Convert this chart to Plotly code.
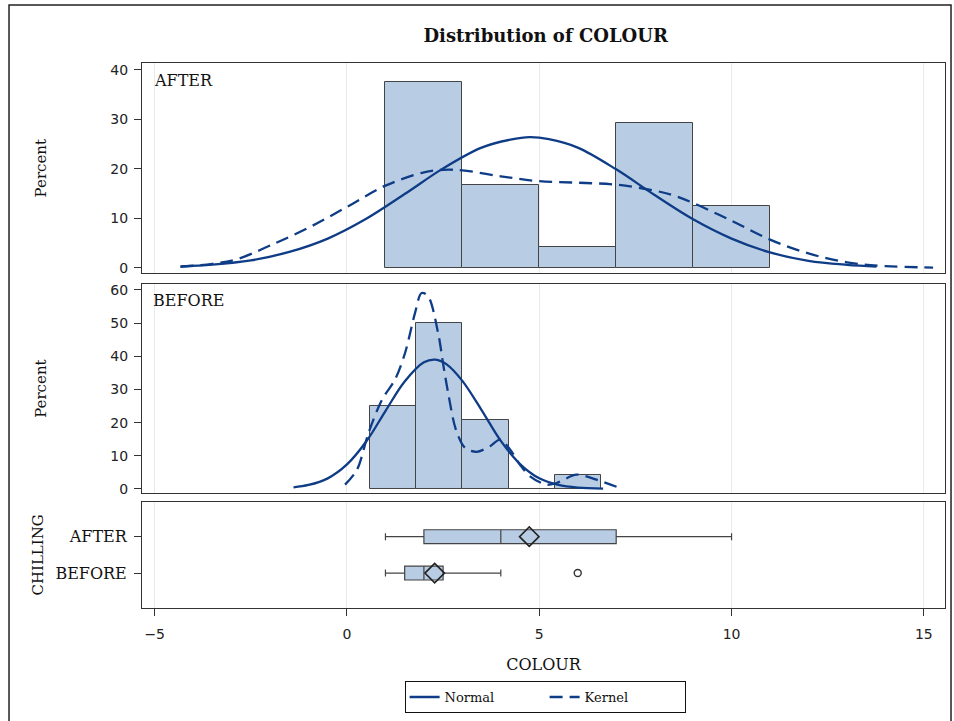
import plotly.graph_objects as go
from plotly.subplots import make_subplots

# ---------------- data ----------------
after_bin_centers = [2, 4, 6, 8, 10]
after_bin_width = 2
after_percent = [37.5, 16.67, 4.17, 29.17, 12.5]

before_bin_centers = [1.2, 2.4, 3.6, 4.8, 6.0]
before_bin_width = 1.2
before_percent = [25.0, 50.0, 20.83, 0.0, 4.17]

after_normal_x = [-4.33, -3.5, -2.5, -1.5, -0.5, 0.5, 1.5, 2.5, 3.5, 4.25, 4.75, 5.25, 6.0, 7.0, 8.0, 9.0, 10.0, 11.0, 12.0, 13.0, 13.77]
after_normal_y = [0.3, 0.65, 1.5, 3.2, 5.9, 9.9, 14.9, 20.1, 24.3, 25.9, 26.4, 26.0, 24.3, 19.9, 14.7, 9.8, 5.9, 3.1, 1.4, 0.6, 0.25]

after_kernel_x = [-4.33, -3.5, -2.87, -2.0, -1.0, 0.0, 1.0, 2.0, 2.5, 3.0, 4.0, 5.0, 6.0, 7.0, 8.0, 8.5, 9.0, 10.0, 11.0, 12.0, 13.0, 14.0, 15.24]
after_kernel_y = [0.2, 0.8, 1.7, 4.5, 8.1, 12.3, 16.6, 19.3, 19.8, 19.7, 18.5, 17.5, 17.2, 16.8, 15.6, 14.6, 13.1, 9.5, 5.7, 2.9, 1.1, 0.35, 0.05]

before_normal_x = [-1.39, -1.0, -0.5, 0.0, 0.5, 1.0, 1.5, 2.0, 2.3, 2.6, 3.0, 3.5, 4.0, 4.5, 5.0, 5.5, 6.0, 6.66]
before_normal_y = [0.5, 1.2, 3.2, 7.4, 14.3, 23.5, 32.4, 38.2, 39.0, 37.5, 32.6, 23.8, 14.5, 7.5, 3.2, 1.2, 0.4, 0.1]

before_kernel_x = [-0.05, 0.26, 0.56, 0.91, 1.25, 1.51, 1.77, 1.94, 2.11, 2.37, 2.51, 2.63, 2.83, 3.07, 3.37, 3.72, 3.98, 4.24, 4.50, 4.76, 5.19, 5.45, 5.97, 6.49, 7.09]
before_kernel_y = [1.3, 5.8, 16.9, 26.9, 33.0, 41.0, 53.1, 59.1, 58.1, 47.0, 37.0, 29.0, 18.0, 12.4, 11.2, 12.9, 14.9, 11.9, 7.3, 3.8, 1.3, 1.8, 4.3, 2.8, 0.3]

groups = ["AFTER", "BEFORE"]
box_min = [1, 1]
box_q1 = [2, 1.5]
box_median = [4, 2]
box_q3 = [7, 2.5]
box_max = [10, 4]
box_mean = [4.74, 2.28]
outlier_group = ["BEFORE"]
outlier_value = [6]

x_ticks = [-5, 0, 5, 10, 15]

# ---------------- styles ----------------
BAR_FILL = "#b8cce4"
EDGE = "#444444"
CURVE = "#0e3c86"
FRAME = "#333333"
GRID = "#ebebeb"
SERIF = "DejaVu Serif"
SANS = "DejaVu Sans"

fig = make_subplots(rows=3, cols=1, shared_xaxes=True)

# histograms
fig.add_trace(go.Bar(x=after_bin_centers, y=after_percent, width=after_bin_width,
                     marker=dict(color=BAR_FILL, line=dict(color=EDGE, width=1)),
                     showlegend=False, hoverinfo="skip"), row=1, col=1)
fig.add_trace(go.Bar(x=before_bin_centers, y=before_percent, width=before_bin_width,
                     marker=dict(color=BAR_FILL, line=dict(color=EDGE, width=1)),
                     showlegend=False, hoverinfo="skip"), row=2, col=1)

# curves
fig.add_trace(go.Scatter(x=after_normal_x, y=after_normal_y, mode="lines", name="Normal",
                         line=dict(color=CURVE, width=2.3, shape="spline", smoothing=1.0),
                         legendgroup="n", showlegend=True), row=1, col=1)
fig.add_trace(go.Scatter(x=after_kernel_x, y=after_kernel_y, mode="lines", name="Kernel",
                         line=dict(color=CURVE, width=2.3, shape="spline", smoothing=1.0, dash="13px,7px"),
                         legendgroup="k", showlegend=True), row=1, col=1)
fig.add_trace(go.Scatter(x=before_normal_x, y=before_normal_y, mode="lines", name="Normal",
                         line=dict(color=CURVE, width=2.3, shape="spline", smoothing=1.0),
                         legendgroup="n", showlegend=False), row=2, col=1)
fig.add_trace(go.Scatter(x=before_kernel_x, y=before_kernel_y, mode="lines", name="Kernel",
                         line=dict(color=CURVE, width=2.3, shape="spline", smoothing=0.9, dash="13px,7px"),
                         legendgroup="k", showlegend=False), row=2, col=1)

# box plots
for i, g in enumerate(groups):
    fig.add_trace(go.Box(y=[g], q1=[box_q1[i]], median=[box_median[i]], q3=[box_q3[i]],
                         lowerfence=[box_min[i]], upperfence=[box_max[i]],
                         orientation="h", width=0.38, whiskerwidth=0.5,
                         fillcolor=BAR_FILL, line=dict(color=EDGE, width=1.2),
                         boxpoints=False, showlegend=False, hoverinfo="skip"), row=3, col=1)
fig.add_trace(go.Scatter(x=box_mean, y=groups, mode="markers",
                         marker=dict(symbol="diamond-open", size=15, color="#222222",
                                     line=dict(width=1.6, color="#222222")),
                         showlegend=False, hoverinfo="skip"), row=3, col=1)
fig.add_trace(go.Scatter(x=outlier_value, y=outlier_group, mode="markers",
                         marker=dict(symbol="circle-open", size=7, color="#333333",
                                     line=dict(width=1.4, color="#333333")),
                         showlegend=False, hoverinfo="skip"), row=3, col=1)

xrange = [-5.33, 15.55]
common_x = dict(range=xrange, showgrid=True, gridcolor=GRID, gridwidth=1,
                tickvals=x_ticks, showline=True, mirror=True, linecolor=FRAME,
                linewidth=1, zeroline=False)
fig.update_xaxes(**common_x)
fig.update_xaxes(showticklabels=False, ticks="", row=1, col=1)
fig.update_xaxes(showticklabels=False, ticks="", row=2, col=1)
fig.update_xaxes(ticks="outside", ticklen=7, tickcolor=FRAME, showticklabels=True,
                 ticklabelstandoff=6,
                 tickfont=dict(family=SANS, size=14, color="#222"),
                 title=dict(text="COLOUR", font=dict(family=SERIF, size=16, color="#111"), standoff=18),
                 row=3, col=1)

common_y = dict(showgrid=False, showline=True, mirror=True, linecolor=FRAME, linewidth=1,
                zeroline=False, ticks="outside", ticklen=7, tickcolor=FRAME)
fig.update_yaxes(**common_y)
fig.update_yaxes(domain=[0.614, 1.0], range=[-1.13, 41.4], tickvals=[0, 10, 20, 30, 40],
                 tickfont=dict(family=SANS, size=14, color="#222"), ticklabelstandoff=3,
                 title=dict(text="Percent", font=dict(family=SERIF, size=15, color="#111"), standoff=60),
                 row=1, col=1)
fig.update_yaxes(domain=[0.2105, 0.5945], range=[-1.3, 61.8], tickvals=[0, 10, 20, 30, 40, 50, 60],
                 tickfont=dict(family=SANS, size=14, color="#222"), ticklabelstandoff=3,
                 title=dict(text="Percent", font=dict(family=SERIF, size=15, color="#111"), standoff=60),
                 row=2, col=1)
fig.update_yaxes(domain=[0.0, 0.195], type="category", categoryorder="array",
                 categoryarray=["BEFORE", "AFTER"], range=[-0.96, 1.96],
                 tickfont=dict(family=SERIF, size=16, color="#111"), ticklabelstandoff=4,
                 title=dict(text="CHILLING", font=dict(family=SERIF, size=15, color="#111"), standoff=8),
                 row=3, col=1)

fig.add_annotation(text="AFTER", xref="x domain", yref="y domain", x=0.012, y=0.916,
                   xanchor="left", yanchor="middle", showarrow=False,
                   font=dict(family=SERIF, size=16, color="#111"))
fig.add_annotation(text="BEFORE", xref="x2 domain", yref="y2 domain", x=0.011, y=0.919,
                   xanchor="left", yanchor="middle", showarrow=False,
                   font=dict(family=SERIF, size=16, color="#111"))

# outer frame
fig.add_shape(type="rect", xref="paper", yref="paper",
              x0=-0.1656, x1=1.0075, y0=-0.2147, y1=1.1064,
              line=dict(color="#222222", width=1.5), fillcolor="rgba(0,0,0,0)")

fig.update_layout(
    width=954, height=721,
    margin=dict(l=142, r=9, t=63, b=113, autoexpand=False),
    paper_bgcolor="white", plot_bgcolor="white",
    bargap=0, barmode="overlay",
    title=dict(text="<b>Distribution of COLOUR</b>", x=0.572, xanchor="center",
               y=0.95, yanchor="middle", font=dict(family=SERIF, size=18, color="#111")),
    legend=dict(orientation="h", x=0.502, xanchor="center", y=-0.134, yanchor="top",
                bordercolor="#111", borderwidth=1, bgcolor="white",
                font=dict(family=SERIF, size=13, color="#111"),
                entrywidth=95, entrywidthmode="pixels", tracegroupgap=0),
    showlegend=True,
)

fig.write_html("out.html")
